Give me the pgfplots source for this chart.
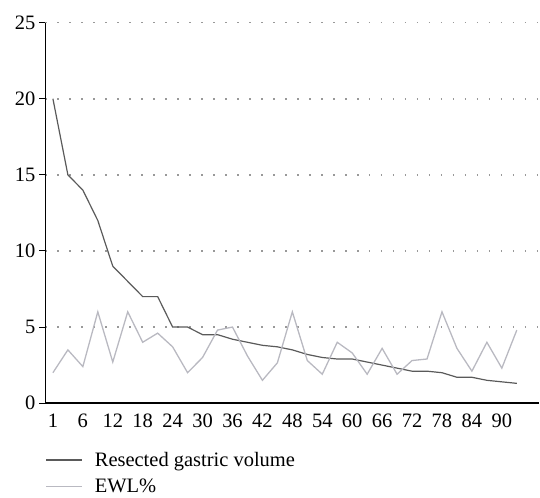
\documentclass[border=0pt]{standalone}
\usepackage{pgfplots}
\pgfplotsset{compat=1.18}
\usepackage{fontspec}
\setmainfont{Liberation Serif}
\definecolor{darkl}{HTML}{5A5A5A}
\definecolor{lightl}{HTML}{B9B9C1}
\newcommand{\fs}{\fontsize{20.5bp}{24bp}\selectfont}
\begin{document}
\begin{tikzpicture}
\begin{axis}[
  name=ax,
  scale only axis,
  width=494.5bp, height=381bp,
  xmin=-0.5, xmax=32.5, ymin=0, ymax=25,
  axis x line=bottom, axis y line=left,
  axis line style={-, black, line width=1.3bp},
  xtick={0,2,...,30},
  xticklabels={1,6,12,18,24,30,36,42,48,54,60,66,72,78,84,90},
  ytick={0,5,10,15,20,25},
  x tick style={draw=none},
  y tick style={black, line width=1bp},
  tick align=outside,
  major tick length=6bp,
  ymajorgrids,
  major grid style={gray!80, line width=1.5bp, dash pattern=on 1.5bp off 10.5bp},
  tick label style={font=\fs},
  /pgf/number format/assume math mode=true,
  yticklabel style={xshift=-0.5bp},
  xticklabel style={yshift=-1bp},
  legend style={font=\fs, draw=none, at={(0,-0.118)}, anchor=north west, row sep=7bp, inner xsep=0pt},
  legend cell align=left,
  legend image code/.code={\draw[#1] (0bp,0bp) -- (36bp,0bp); \path (46bp,0bp);},
]
\addplot[darkl, line width=1.2bp] coordinates {
(0,20) (1,15) (2,14) (3,12) (4,9) (5,8) (6,7) (7,7) (8,5) (9,5)
(10,4.5) (11,4.5) (12,4.2) (13,4.0) (14,3.8) (15,3.7) (16,3.5) (17,3.2) (18,3.0) (19,2.9)
(20,2.9) (21,2.7) (22,2.5) (23,2.3) (24,2.1) (25,2.1) (26,2.0) (27,1.7) (28,1.7) (29,1.5)
(30,1.4) (31,1.3)};
\addlegendentry{Resected gastric volume}
\addplot[lightl, line width=1.3bp] coordinates {
(0,2.0) (1,3.5) (2,2.4) (3,6.0) (4,2.7) (5,6.0) (6,4.0) (7,4.6) (8,3.7) (9,2.0)
(10,3.0) (11,4.8) (12,5.0) (13,3.1) (14,1.5) (15,2.65) (16,6.0) (17,2.8) (18,1.9) (19,4.0)
(20,3.3) (21,1.9) (22,3.6) (23,1.9) (24,2.8) (25,2.9) (26,6.0) (27,3.6) (28,2.1) (29,4.0)
(30,2.3) (31,4.8)};
\addlegendentry{EWL\%}
\end{axis}
\path ([xshift=-45.5bp,yshift=-92.3bp]ax.south west) rectangle ([yshift=22.7bp]ax.north east);
\end{tikzpicture}
\end{document}
